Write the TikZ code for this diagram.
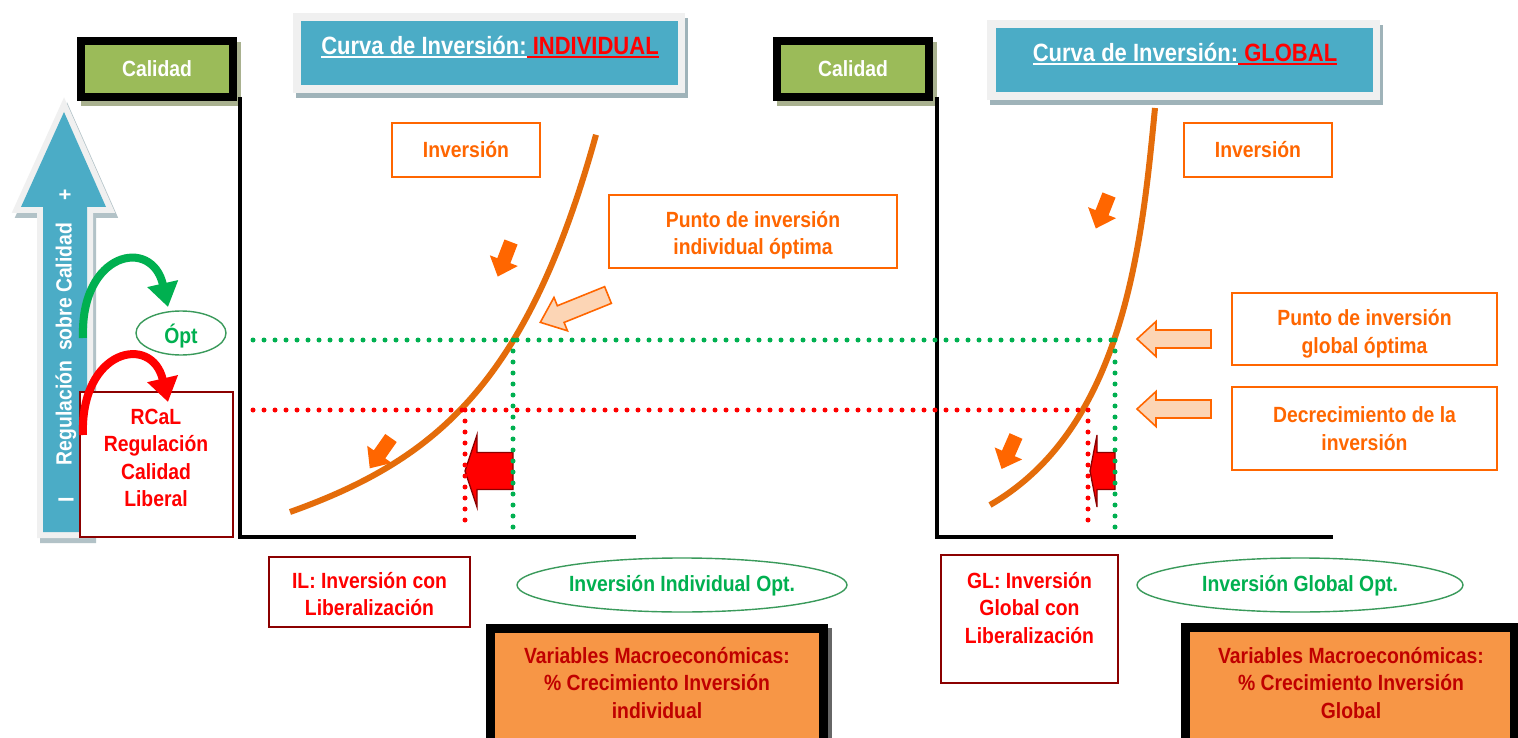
\documentclass[tikz,border=0pt]{standalone}
\usepackage{fontspec}
\setmainfont[FakeStretch=0.88]{Liberation Sans}
\usetikzlibrary{arrows.meta,shapes.geometric}
\definecolor{cblue}{HTML}{4BACC6}
\definecolor{cgreenbox}{HTML}{9BBB59}
\definecolor{corfill}{HTML}{F79646}
\definecolor{corange}{HTML}{FF6600}
\definecolor{ccurve}{HTML}{E46C0A}
\definecolor{clight}{HTML}{FCD5B5}
\definecolor{cred}{HTML}{FF0000}
\definecolor{cvar}{HTML}{C00000}
\definecolor{cgreen}{HTML}{00B050}
\definecolor{cgell}{HTML}{3A9A5B}
\definecolor{cgrey}{HTML}{F0F0F0}
\definecolor{cshadow}{HTML}{9FB3B9}
\definecolor{cshadowg}{HTML}{A9B18F}
\definecolor{cadark}{HTML}{8B0000}
\newcommand\dfont{\fontsize{22}{27.5}\selectfont\bfseries}
\newcommand\tfont{\fontsize{25}{30}\selectfont\bfseries}
\newcommand\ulw[1]{\setbox0=\hbox{#1}\rlap{\rule[-3.5pt]{\wd0}{2.2pt}}\box0}
\newcommand\barr[8]{\path[#1, shift={(#2,#3)}, rotate=#4] (0,-#7) -- (#5-#6,-#7) -- (#5-#6,-#8) -- (#5,0) -- (#5-#6,#8) -- (#5-#6,#7) -- (0,#7) -- cycle;}
\begin{document}
\begin{tikzpicture}[x=1pt,y=-1pt,
  obox/.style={draw=corange, line width=1.6pt, fill=white, text=corange, font=\dfont, align=center, inner sep=0pt},
  rbox/.style={draw=cadark, line width=1.6pt, fill=white, inner sep=0pt},
  gell/.style={ellipse, draw=cgell, line width=1.4pt, fill=white, text=cgreen, font=\dfont, inner sep=0pt},
  txt/.style={font=\dfont, align=center, inner sep=0pt},
  dots/.style={line width=5pt, line cap=round, dash pattern=on 0pt off 11pt},
  curve/.style={draw=ccurve, line width=6pt},
  solidarr/.style={fill=corange},
  lightarr/.style={fill=clight, draw=corange, line width=1.6pt, line join=miter},
  redarr/.style={fill=cred, draw=cadark, line width=1.3pt},
  calbox/.style={fill=cgreenbox, minimum width=144, minimum height=48, inner sep=0pt, text=white, font=\dfont},
  titbox/.style={fill=cblue, minimum width=377, minimum height=64, inner sep=0pt},
  varbox/.style={fill=corfill, inner sep=0pt, text=cvar, font=\dfont, align=center}
]
\useasboundingbox (0,0) rectangle (1518,738);
\clip (0,0) rectangle (1518,738);
\fill[white] (0,0) rectangle (1518,738);

% ---------- big vertical arrow ----------
\draw[cshadow!80, line width=12pt, line join=miter, fill=cshadow!80, shift={(3,5)}]
  (64,112) -- (106,207) -- (87,207) -- (87,532) -- (43,532) -- (43,207) -- (21,207) -- cycle;
\draw[cgrey, line width=12pt, line join=miter]
  (64,112) -- (106,207) -- (87,207) -- (87,532) -- (43,532) -- (43,207) -- (21,207) -- cycle;
\fill[cblue]
  (64,112) -- (106,207) -- (87,207) -- (87,532) -- (43,532) -- (43,207) -- (21,207) -- cycle;
\node[txt, text=white, rotate=90] (regt) at (66,344) {Regulación\hspace{10pt}sobre Calidad};
\node[txt, text=white, rotate=90] (regm) at (66,500) {I};
\node[txt, text=white, rotate=90] (regp) at (66,195) {+};

% ---------- Calidad boxes ----------
\fill[cshadowg] (81,42) rectangle (241,106);
\fill[black] (77,37) rectangle (237,101);
\node[calbox] (cal1) at (157,69) {Calidad};
\fill[cshadowg] (777,42) rectangle (937,106);
\fill[black] (773,37) rectangle (933,101);
\node[calbox] (cal2) at (853,69) {Calidad};

% ---------- title boxes ----------
\fill[cshadow] (296,18) rectangle (688,98);
\fill[cgrey] (293,13) rectangle (685,93);
\node[titbox] (tit1) at (489,53) {};
\node[txt, font=\tfont, text=white] (tit1t) at (490,47) {\ulw{Curva de Inversión:}\textcolor{cred}{\ulw{ INDIVIDUAL}}};
\fill[cshadow] (990,25) rectangle (1383,105);
\fill[cgrey] (987,20) rectangle (1380,100);
\node[titbox] (tit2) at (1184,60) {};
\node[txt, font=\tfont, text=white] (tit2t) at (1185,54) {\ulw{Curva de Inversión:}\textcolor{cred}{\ulw{ GLOBAL}}};

% ---------- RCaL box ----------
\node[rbox, minimum width=153, minimum height=145] (rcal) at (156.5,464.5) {};
\node[txt, text=cred] (rcalt) at (156,458) {RCaL\\Regulación\\Calidad\\Liberal};

% ---------- curved arrows ----------
\draw[cgreen, line width=8pt, -{Triangle[length=24pt,width=30pt]}] (83,338) .. controls (80,252) and (152,236) .. (168,307);
\draw[cred, line width=8pt, -{Triangle[length=24pt,width=30pt]}] (83,435) .. controls (80,349) and (152,333) .. (168,402);
\node[gell, minimum width=90, minimum height=44] (opt) at (181,333) {};
\node[txt, text=cgreen] (optt) at (181,336) {Ópt};

% ---------- axes ----------
\draw[black, line width=4pt] (240,97) -- (240,537) -- (636,537);
\draw[black, line width=4pt] (937,97) -- (937,537) -- (1333,537);

% ---------- left panel ----------
\node[obox, minimum width=148, minimum height=54] (inv1) at (466,150) {Inversión};
\node[obox, minimum width=288, minimum height=73] (pto1) at (753,231.5) {};
\node[txt, text=corange] (pto1t) at (753,235) {Punto de inversión\\individual óptima};
\barr{solidarr}{511}{242}{-111}{37}{17}{7}{15}
\barr{solidarr}{391}{438}{-125}{37}{17}{7}{15}
\barr{lightarr}{608}{295}{-158}{73}{22}{9}{18}
\barr{redarr}{513}{471}{180}{48}{12}{18.5}{36}
\draw[curve] plot[domain=0:306, samples=80] ({290+\x},{512-13*(exp(0.0105*\x)-1)-0.22*\x});

% ---------- right panel ----------
\node[obox, minimum width=148, minimum height=54] (inv2) at (1258,150) {Inversión};
\node[obox, minimum width=265, minimum height=72] (pto2) at (1364.5,329) {};
\node[txt, text=corange] (pto2t) at (1364.5,334) {Punto de inversión\\global óptima};
\node[obox, minimum width=265, minimum height=83] (dec) at (1364.5,428.5) {Decrecimiento de la\\inversión};
\barr{solidarr}{1109}{195}{-111.5}{36}{17}{7}{15}
\barr{solidarr}{1016}{436}{-113.6}{36}{17}{7}{15}
\barr{lightarr}{1211}{339}{180}{74}{19}{9}{17.5}
\barr{lightarr}{1211}{409}{180}{74}{19}{9}{17.5}
\barr{redarr}{1115}{471}{180}{25}{7}{18.5}{36}
\draw[curve] (990,505) .. controls (1125,427) and (1142,241) .. (1155,108);

% ---------- dotted guide lines ----------
\draw[dots, cgreen] (253,340) -- (1115,340);
\draw[dots, cred] (253,410) -- (1088,410);
\draw[dots, cgreen] (513,340) -- (513,535);
\draw[dots, cred] (465,410) -- (465,522);
\draw[dots, cgreen] (1115,340) -- (1115,535);
\draw[dots, cred] (1088,410) -- (1088,522);

% ---------- bottom labels ----------
\node[rbox, minimum width=201, minimum height=70] (il) at (369.5,592) {};
\node[txt, text=cred] (ilt) at (369.5,594) {IL: Inversión con\\Liberalización};
\node[gell, minimum width=330, minimum height=54] (ell1) at (682,585) {};
\node[txt, text=cgreen] (ell1t) at (682,586) {Inversión Individual Opt.};
\node[rbox, minimum width=177, minimum height=128] (gl) at (1029.5,619) {};
\node[txt, text=cred] (glt) at (1029.5,608) {GL: Inversión\\Global con\\Liberalización};
\node[gell, minimum width=326, minimum height=54] (ell2) at (1300,585) {};
\node[txt, text=cgreen] (ell2t) at (1300,586) {Inversión Global Opt.};

% ---------- macro variable boxes ----------
\fill[black!60] (490,628) rectangle (832,745);
\fill[black] (486,624) rectangle (828,745);
\node[varbox, minimum width=324, minimum height=112] (var1) at (657,689) {};
\node[txt, text=cvar] (var1t) at (657,683) {Variables Macroeconómicas:\\\% Crecimiento Inversión\\individual};
\fill[black] (1181,623) rectangle (1522,745);
\node[varbox, minimum width=320, minimum height=112] (var2) at (1350,688) {};
\node[txt, text=cvar] (var2t) at (1351,683) {Variables Macroeconómicas:\\\% Crecimiento Inversión\\Global};
\end{tikzpicture}
\end{document}
